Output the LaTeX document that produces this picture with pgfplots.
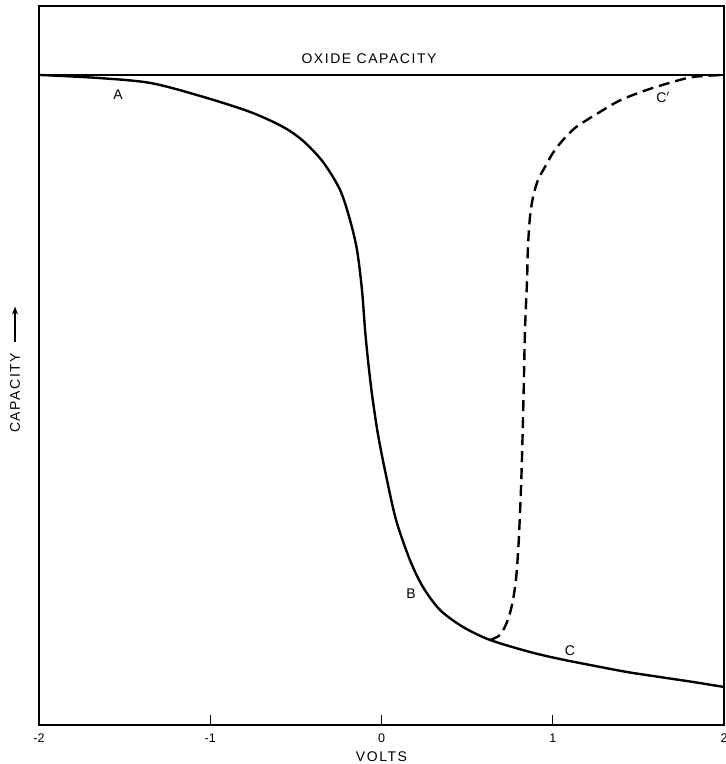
\documentclass[border=0pt]{standalone}
\usepackage{fontspec}
\setmainfont{Liberation Sans}
\newfontfamily\lbl{Liberation Sans}[LetterSpace=11]
\usepackage{pgfplots}
\pgfplotsset{compat=1.18}
\usetikzlibrary{arrows.meta}

\begin{document}
\begin{tikzpicture}
\begin{axis}[
  scale only axis,
  width=685pt, height=719pt,
  xmin=-2, xmax=2, ymin=0, ymax=1.106,
  axis line style={line width=1.3pt},
  xtick={-2,-1,0,1,2},
  xticklabels={-2,-1,0,1,2},
  ytick=\empty,
  xtick pos=bottom,
  tick align=inside,
  major tick length=10pt,
  tick style={line width=1.1pt, black},
  xticklabel style={font=\fontsize{12.5}{14}\selectfont, yshift=-5pt},
  xlabel={\lbl VOLTS},
  xlabel style={font=\fontsize{14}{16}\selectfont, yshift=-2pt},
  ylabel={\lbl CAPACITY},
  ylabel style={font=\fontsize{14}{16}\selectfont,
    at={(axis description cs:0,0.462)}, anchor=center, yshift=24pt},
  clip=false,
]
% oxide capacity level
\addplot[black, line width=1.4pt] coordinates {(-2,1) (2,1)};
% main C-V curve A-B-C
\addplot[black, line width=2.4pt, smooth, tension=0.5] coordinates {
 (-2.000,1.000) (-1.661,0.9954) (-1.352,0.9877) (-1.060,0.9677) (-0.768,0.9431)
 (-0.575,0.9200) (-0.458,0.8985) (-0.342,0.8662) (-0.242,0.8231) (-0.184,0.7769)
 (-0.143,0.7308) (-0.114,0.6692) (-0.096,0.6077) (-0.079,0.5615) (-0.055,0.5077)
 (-0.020,0.4462) (0.026,0.3846) (0.085,0.3154) (0.166,0.2538) (0.242,0.2123)
 (0.342,0.1769) (0.476,0.1508) (0.634,0.1308) (0.867,0.1123) (1.042,0.1015)
 (1.218,0.0923) (1.434,0.0815) (1.626,0.0738) (1.819,0.0662) (2.000,0.0585)};
% dashed branch C'
\addplot[black, line width=2.4pt, smooth, tension=0.5, dash pattern=on 11pt off 6pt] coordinates {
 (0.634,0.1308) (0.692,0.1385) (0.733,0.1585) (0.762,0.1846) (0.785,0.2231)
 (0.800,0.2769) (0.812,0.3462) (0.820,0.4077) (0.829,0.5000) (0.838,0.6077)
 (0.850,0.6846) (0.855,0.7338) (0.867,0.7815) (0.885,0.8123) (0.914,0.8385)
 (0.955,0.8585) (1.001,0.8800) (1.060,0.9000) (1.130,0.9185) (1.200,0.9308)
 (1.276,0.9431) (1.375,0.9585) (1.469,0.9692) (1.585,0.9800) (1.702,0.9892)
 (1.819,0.9969) (2.000,1.000)};
\node[font=\fontsize{14}{16}\selectfont\lbl] at (axis cs:-0.073,1.025) {OXIDE CAPACITY};
\node[font=\fontsize{14}{16}\selectfont] at (axis cs:-1.539,0.969) {A};
\node[font=\fontsize{14}{16}\selectfont] at (axis cs:0.172,0.2015) {B};
\node[font=\fontsize{14}{16}\selectfont] at (axis cs:1.101,0.115) {C};
\node[font=\fontsize{14}{16}\selectfont] at (axis cs:1.644,0.965) {C$'$};
% arrow beside the y label
\draw[line width=1.4pt, -{Stealth[length=8pt,width=6pt]}]
  ([xshift=-24pt]axis description cs:0,0.533) -- ([xshift=-24pt]axis description cs:0,0.582);
\end{axis}
\pgfresetboundingbox
\useasboundingbox (-39pt,-39pt) rectangle (687pt,725pt);
\end{tikzpicture}
\end{document}
